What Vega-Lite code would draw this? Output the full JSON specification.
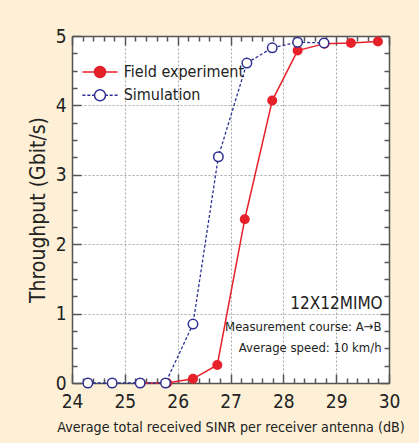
{
  "$schema": "https://vega.github.io/schema/vega-lite/v6.json",
  "width": 317,
  "height": 347,
  "autosize": {"type": "none"},
  "padding": {"left": 72, "top": 36, "right": 30, "bottom": 60},
  "background": "#fdf0d6",
  "config": {
    "view": {"fill": "white", "stroke": null},
    "font": "Liberation Sans Narrow, DejaVu Sans Condensed, sans-serif"
  },
  "data": {
    "values": [
      {"series": "Field experiment", "sinr": 25.3, "throughput": 0},
      {"series": "Field experiment", "sinr": 25.8, "throughput": 0},
      {"series": "Field experiment", "sinr": 26.29, "throughput": 0.06},
      {"series": "Field experiment", "sinr": 26.75, "throughput": 0.26},
      {"series": "Field experiment", "sinr": 27.27, "throughput": 2.36},
      {"series": "Field experiment", "sinr": 27.79, "throughput": 4.07},
      {"series": "Field experiment", "sinr": 28.27, "throughput": 4.79},
      {"series": "Field experiment", "sinr": 28.78, "throughput": 4.89},
      {"series": "Field experiment", "sinr": 29.28, "throughput": 4.9},
      {"series": "Field experiment", "sinr": 29.79, "throughput": 4.92},
      {"series": "Simulation", "sinr": 24.3, "throughput": 0},
      {"series": "Simulation", "sinr": 24.76, "throughput": 0},
      {"series": "Simulation", "sinr": 25.29, "throughput": 0},
      {"series": "Simulation", "sinr": 25.77, "throughput": 0},
      {"series": "Simulation", "sinr": 26.29, "throughput": 0.85},
      {"series": "Simulation", "sinr": 26.77, "throughput": 3.26},
      {"series": "Simulation", "sinr": 27.31, "throughput": 4.61},
      {"series": "Simulation", "sinr": 27.79, "throughput": 4.83},
      {"series": "Simulation", "sinr": 28.27, "throughput": 4.91},
      {"series": "Simulation", "sinr": 28.77, "throughput": 4.9}
    ]
  },
  "resolve": {"axis": {"x": "independent", "y": "independent"}},
  "layer": [
    {
      "transform": [{"filter": "datum.series === 'Field experiment'"}],
      "mark": {"type": "line", "strokeWidth": 1.5},
      "encoding": {
        "x": {
          "field": "sinr", "type": "quantitative", "scale": {"domain": [24, 30], "nice": false, "zero": false},
          "axis": {
            "orient": "bottom", "values": [24, 25, 26, 27, 28, 29, 30], "ticks": false,
            "grid": true, "gridColor": "#a8a8a8", "gridDash": [2, 2], "gridWidth": 1,
            "domain": true, "domainColor": "#555555", "domainWidth": 1.5,
            "labelFontSize": 19, "labelPadding": 9, "labelColor": "#222222", "labelFlush": false,
            "title": "Average total received SINR per receiver antenna (dB)",
            "titleFontSize": 14.2, "titleFontWeight": "normal", "titleColor": "#222222", "titlePadding": 9
          }
        },
        "y": {
          "field": "throughput", "type": "quantitative", "scale": {"domain": [0, 5], "nice": false},
          "axis": {
            "orient": "left", "values": [0, 1, 2, 3, 4, 5], "ticks": false,
            "grid": true, "gridColor": "#a8a8a8", "gridDash": [2, 2], "gridWidth": 1,
            "domain": true, "domainColor": "#555555", "domainWidth": 1.5,
            "labelFontSize": 19, "labelPadding": 6, "labelColor": "#222222", "labelFlush": false,
            "title": "Throughput (Gbit/s)",
            "titleFontSize": 21, "titleFontWeight": "normal", "titleColor": "#222222", "titlePadding": 7
          }
        },
        "color": {
          "field": "series", "type": "nominal",
          "scale": {"domain": ["Field experiment", "Simulation"], "range": ["#e6212a", "#2e3192"]},
          "legend": {
            "orient": "none", "legendX": 20, "legendY": 28, "title": null,
            "symbolSize": 121, "labelFontSize": 16, "labelOffset": 15.7, "rowPadding": 5.3, "padding": 0,
            "labelColor": "#222222",
            "encode": {
              "symbols": {
                "update": {
                  "shape": {"signal": "datum.value === 'Simulation' ? 'M-3.2,0H-2.65M-2.3,0H-1.75M-1.45,0H-1M1,0H1.45M1.75,0H2.3M2.65,0H3.2M1,0A1,1 0 1,1 -1,0A1,1 0 1,1 1,0Z' : 'M-3.2,0H3.2M1,0A1,1 0 1,1 -1,0A1,1 0 1,1 1,0Z'"},
                  "fill": {"signal": "datum.value === 'Simulation' ? 'white' : '#e6212a'"},
                  "stroke": {"signal": "datum.value === 'Simulation' ? '#2e3192' : '#e6212a'"},
                  "strokeDash": {"value": []},
                  "strokeWidth": {"value": 1.5},
                  "opacity": {"value": 1}
                }
              }
            }
          }
        }
      }
    },
    {
      "transform": [{"filter": "datum.series === 'Field experiment'"}],
      "mark": {"type": "point", "filled": true, "color": "#e6212a", "size": 100, "opacity": 1},
      "encoding": {
        "x": {
          "field": "sinr", "type": "quantitative",
          "axis": {"orient": "bottom", "values": [24, 25, 26, 27, 28, 29, 30], "labels": false, "grid": false, "domain": false, "ticks": true, "tickSize": -9, "tickWidth": 1.5, "tickColor": "#555555", "title": null}
        },
        "y": {
          "field": "throughput", "type": "quantitative",
          "axis": {"orient": "left", "values": [0, 1, 2, 3, 4, 5], "labels": false, "grid": false, "domain": false, "ticks": true, "tickSize": -9, "tickWidth": 1.5, "tickColor": "#555555", "title": null}
        }
      }
    },
    {
      "transform": [{"filter": "datum.series === 'Simulation'"}],
      "mark": {"type": "line", "color": "#2e3192", "strokeWidth": 1.3, "strokeDash": [3, 2]},
      "encoding": {
        "x": {
          "field": "sinr", "type": "quantitative",
          "axis": {"orient": "bottom", "values": [24.2, 24.4, 24.6, 24.8, 25.2, 25.4, 25.6, 25.8, 26.2, 26.4, 26.6, 26.8, 27.2, 27.4, 27.6, 27.8, 28.2, 28.4, 28.6, 28.8, 29.2, 29.4, 29.6, 29.8], "labels": false, "grid": false, "domain": false, "ticks": true, "tickSize": -5, "tickWidth": 1.5, "tickColor": "#555555", "title": null}
        },
        "y": {
          "field": "throughput", "type": "quantitative",
          "axis": {"orient": "left", "values": [0.25, 0.5, 0.75, 1.25, 1.5, 1.75, 2.25, 2.5, 2.75, 3.25, 3.5, 3.75, 4.25, 4.5, 4.75], "labels": false, "grid": false, "domain": false, "ticks": true, "tickSize": -5, "tickWidth": 1.5, "tickColor": "#555555", "title": null}
        }
      }
    },
    {
      "transform": [{"filter": "datum.series === 'Simulation'"}],
      "mark": {"type": "point", "filled": false, "fill": "white", "stroke": "#2e3192", "strokeWidth": 1.5, "size": 90, "opacity": 1, "fillOpacity": 1},
      "encoding": {
        "x": {
          "field": "sinr", "type": "quantitative",
          "axis": {"orient": "top", "values": [24, 25, 26, 27, 28, 29, 30], "labels": false, "grid": false, "domain": true, "domainColor": "#555555", "domainWidth": 1.5, "ticks": true, "tickSize": -9, "tickWidth": 1.5, "tickColor": "#555555", "title": null}
        },
        "y": {
          "field": "throughput", "type": "quantitative",
          "axis": {"orient": "right", "values": [0, 1, 2, 3, 4, 5], "labels": false, "grid": false, "domain": true, "domainColor": "#555555", "domainWidth": 1.5, "ticks": true, "tickSize": -9, "tickWidth": 1.5, "tickColor": "#555555", "title": null}
        }
      }
    },
    {
      "data": {"values": [{"note": "system"}]},
      "mark": {
        "type": "text", "align": "right", "baseline": "middle", "fontSize": 17, "color": "#222222",
        "text": "12X12MIMO"
      },
      "encoding": {
        "x": {
          "datum": 29.88, "type": "quantitative",
          "axis": {"orient": "top", "values": [24.2, 24.4, 24.6, 24.8, 25.2, 25.4, 25.6, 25.8, 26.2, 26.4, 26.6, 26.8, 27.2, 27.4, 27.6, 27.8, 28.2, 28.4, 28.6, 28.8, 29.2, 29.4, 29.6, 29.8], "labels": false, "grid": false, "domain": false, "ticks": true, "tickSize": -5, "tickWidth": 1.5, "tickColor": "#555555", "title": null}
        },
        "y": {
          "datum": 1.14, "type": "quantitative",
          "axis": {"orient": "right", "values": [0.25, 0.5, 0.75, 1.25, 1.5, 1.75, 2.25, 2.5, 2.75, 3.25, 3.5, 3.75, 4.25, 4.5, 4.75], "labels": false, "grid": false, "domain": false, "ticks": true, "tickSize": -5, "tickWidth": 1.5, "tickColor": "#555555", "title": null}
        }
      }
    },
    {
      "data": {"values": [{"note": "conditions"}]},
      "mark": {
        "type": "text", "align": "right", "baseline": "middle", "fontSize": 13, "lineHeight": 21.6, "color": "#222222",
        "text": ["Measurement course: A→B", "Average speed: 10 km/h"]
      },
      "encoding": {
        "x": {"datum": 29.86, "type": "quantitative", "axis": null},
        "y": {"datum": 0.81, "type": "quantitative", "axis": null}
      }
    }
  ]
}
